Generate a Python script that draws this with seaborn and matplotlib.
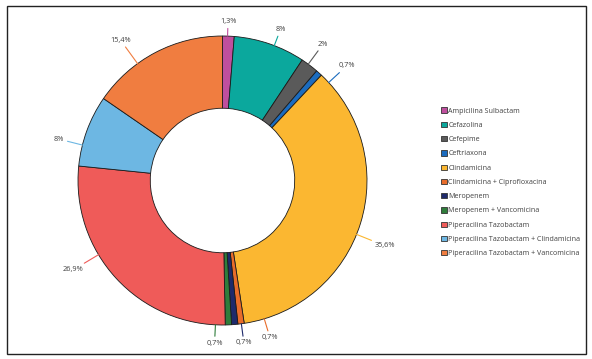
import numpy as np
import matplotlib
matplotlib.use("Agg")
import matplotlib.pyplot as plt
from matplotlib.patches import Patch, Rectangle
import seaborn as sns

sns.set_theme(style="white")
plt.rcParams["font.family"] = ["Open Sans", "DejaVu Sans"]

# ---- data ----
categories = [
    "Ampicilina Sulbactam",
    "Cefazolina",
    "Cefepime",
    "Ceftriaxona",
    "Clindamicina",
    "Clindamicina + Ciprofloxacina",
    "Meropenem",
    "Meropenem + Vancomicina",
    "Piperacilina Tazobactam",
    "Piperacilina Tazobactam + Clindamicina",
    "Piperacilina Tazobactam + Vancomicina",
]
values = [1.3, 8, 2, 0.7, 35.6, 0.7, 0.7, 0.7, 26.9, 8, 15.4]
colors = ["#bf4f9e", "#0ba89d", "#5a5a5a", "#1b6cbf", "#fbb731", "#e86c2a",
          "#1e2a6b", "#2f7d3b", "#ef5b59", "#6db7e3", "#f07d40"]

# label layout (polar, in units of outer radius)
label_angles_deg = [88.0, 69.0, 53.6, 42.7, -21.9, -73.2, -82.5, -92.8, -149.1, 165.8, 126.0]
label_radii = [1.10, 1.12, 1.173, 1.17, 1.212, 1.136, 1.134, 1.126, 1.206, 1.167, 1.20]

labels = [f"{v:g}".replace(".", ",") + "%" for v in values]

W, H = 592, 359
fig = plt.figure(figsize=(W / 100, H / 100), dpi=100)
fig.patch.set_facecolor("white")

cx, cy, R = 222.5, 180.5, 144.5
lim = 1.45
size = 2 * lim * R
ax = fig.add_axes([(cx - size / 2) / W, (H - cy - size / 2) / H, size / W, size / H])

ax.pie(values, colors=colors, startangle=90, counterclock=False, radius=1,
       wedgeprops=dict(width=0.5, edgecolor="#1a1a1a", linewidth=0.6))
ax.set_xlim(-lim, lim)
ax.set_ylim(-lim, lim)
ax.set_aspect("equal")
ax.axis("off")

for lab, ang, r, c in zip(labels, label_angles_deg, label_radii, colors):
    a = np.deg2rad(ang)
    ax.annotate(lab, xy=(np.cos(a), np.sin(a)), xytext=(r * np.cos(a), r * np.sin(a)),
                ha="center", va="center", fontsize=5.3, color="#404040",
                arrowprops=dict(arrowstyle="-", color=c, lw=0.8, shrinkA=0, shrinkB=0),
                annotation_clip=False)

handles = [Patch(facecolor=c, edgecolor="#333333", linewidth=0.6) for c in colors]
leg = fig.legend(handles, categories, loc="upper left",
                 bbox_to_anchor=(441 / W, 1 - 107.5 / H), frameon=False,
                 fontsize=5.1, handlelength=0.8, handleheight=0.8,
                 handletextpad=0.25, labelspacing=1.0, borderpad=0, borderaxespad=0)
for t in leg.get_texts():
    t.set_color("#404040")

fig.add_artist(Rectangle((6.5 / W, (H - 354) / H), 579 / W, 348 / H,
                         transform=fig.transFigure, fill=False,
                         edgecolor="#222222", linewidth=1.0))

fig.savefig("out.png", dpi=100)
